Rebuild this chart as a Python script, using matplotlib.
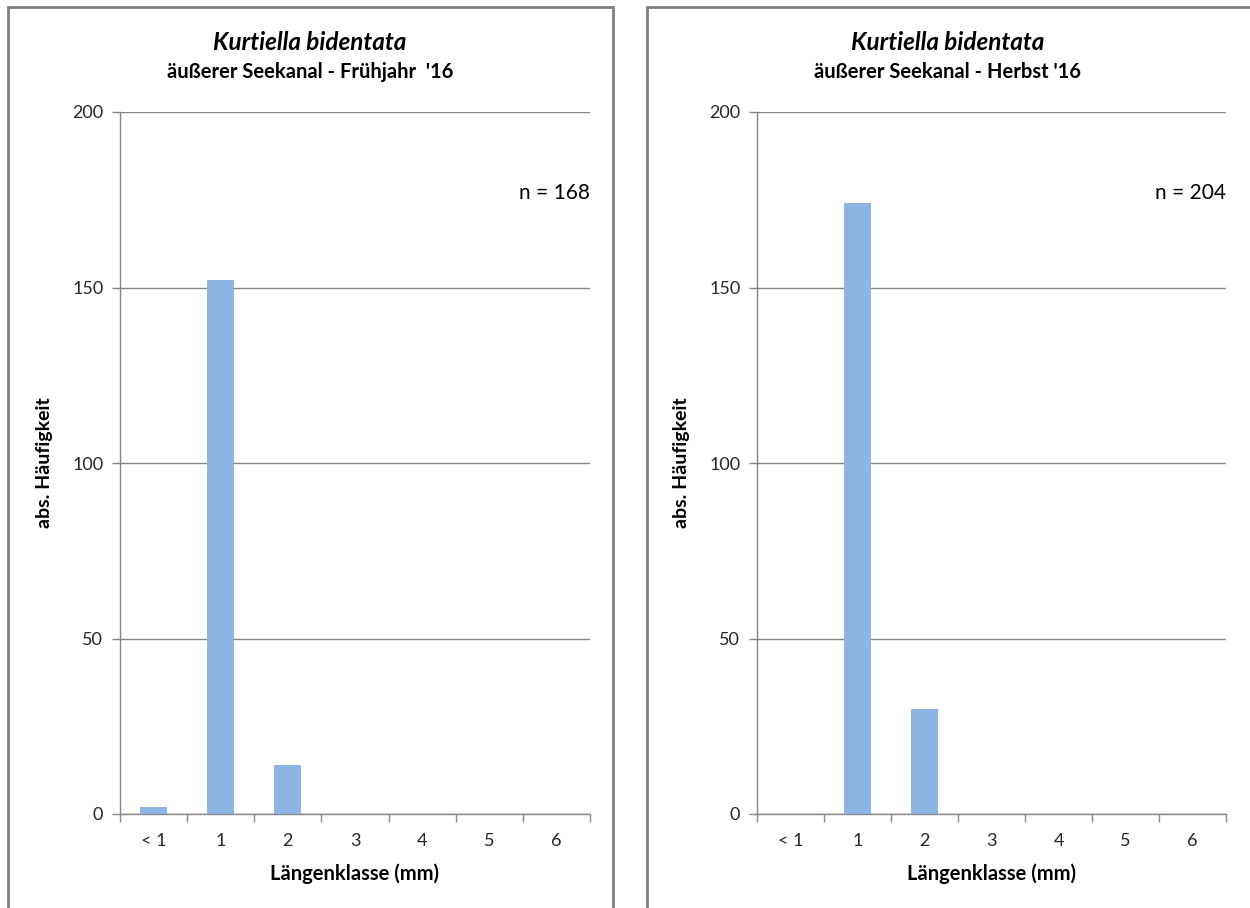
import matplotlib.pyplot as plt
from matplotlib.patches import Rectangle
from matplotlib.ticker import FixedLocator

plt.rcParams["font.family"] = ["Lato", "DejaVu Sans"]

# Data
categories = ["< 1", "1", "2", "3", "4", "5", "6"]
spring_counts = [2, 152, 14, 0, 0, 0, 0]
autumn_counts = [0, 174, 30, 0, 0, 0, 0]
species = "Kurtiella bidentata"
titles = ["äußerer Seekanal - Frühjahr  '16", "äußerer Seekanal - Herbst '16"]
n_labels = ["n = 168", "n = 204"]
y_ticks = [0, 50, 100, 150, 200]

BAR_COLOR = "#8EB4E3"
AXIS_GRAY = "#868686"
BORDER_GRAY = "#7F7F7F"

W, H = 1250, 908
fig = plt.figure(figsize=(W / 100, H / 100), dpi=100)


def px_rect(x0, y0, x1, y1):
    """Convert pixel box (top-left origin) to figure fraction rect."""
    return [x0 / W, 1 - y1 / H, (x1 - x0) / W, (y1 - y0) / H]


def draw_panel(ax, counts, subtitle, n_label, center_px):
    x = range(len(categories))
    ax.bar(x, counts, width=0.4, color=BAR_COLOR, zorder=3)

    ax.set_xlim(-0.5, len(categories) - 0.5)
    ax.set_ylim(0, 200)
    ax.set_yticks(y_ticks)
    ax.set_xticks(list(x))
    ax.set_xticklabels(categories)
    ax.xaxis.set_minor_locator(FixedLocator([i - 0.5 for i in range(len(categories) + 1)]))
    ax.tick_params(axis="x", which="major", length=0, pad=14, labelsize=13, colors="#262626")
    ax.tick_params(axis="x", which="minor", length=6, color=AXIS_GRAY, width=1)
    ax.tick_params(axis="y", length=6, color=AXIS_GRAY, width=1, pad=6,
                   labelsize=13, labelcolor="#262626")

    ax.grid(axis="y", color=AXIS_GRAY, linewidth=1, zorder=0)
    for side in ["top", "right"]:
        ax.spines[side].set_visible(False)
    for side in ["left", "bottom"]:
        ax.spines[side].set_color(AXIS_GRAY)
        ax.spines[side].set_linewidth(1)

    ax.set_xlabel("Längenklasse (mm)", fontsize=14.5, fontweight="bold", labelpad=10)
    ax.set_ylabel("abs. Häufigkeit", fontsize=14, fontweight="bold", labelpad=14)

    ax.text(1.0, 0.885, n_label, transform=ax.transAxes, ha="right", va="center",
            fontsize=15)

    fig.text(center_px / W, 1 - 42 / H, species, ha="center", va="center",
             fontsize=17.5, fontweight="bold", style="italic")
    fig.text(center_px / W, 1 - 72 / H, subtitle, ha="center", va="center",
             fontsize=14.5, fontweight="bold")


ax_left = fig.add_axes(px_rect(120, 112, 590, 814))
ax_right = fig.add_axes(px_rect(757, 112, 1226, 814))

draw_panel(ax_left, spring_counts, titles[0], n_labels[0], 310)
draw_panel(ax_right, autumn_counts, titles[1], n_labels[1], 948)

# Chart-area borders (cut off by the screenshot at the bottom / right)
for x0, x1 in [(8, 613), (647, 1270)]:
    fig.add_artist(Rectangle((x0 / W, -0.1), (x1 - x0) / W, 1.1 - 7 / H,
                             transform=fig.transFigure, fill=False,
                             edgecolor=BORDER_GRAY, linewidth=2))

fig.savefig("out.png", dpi=100)
